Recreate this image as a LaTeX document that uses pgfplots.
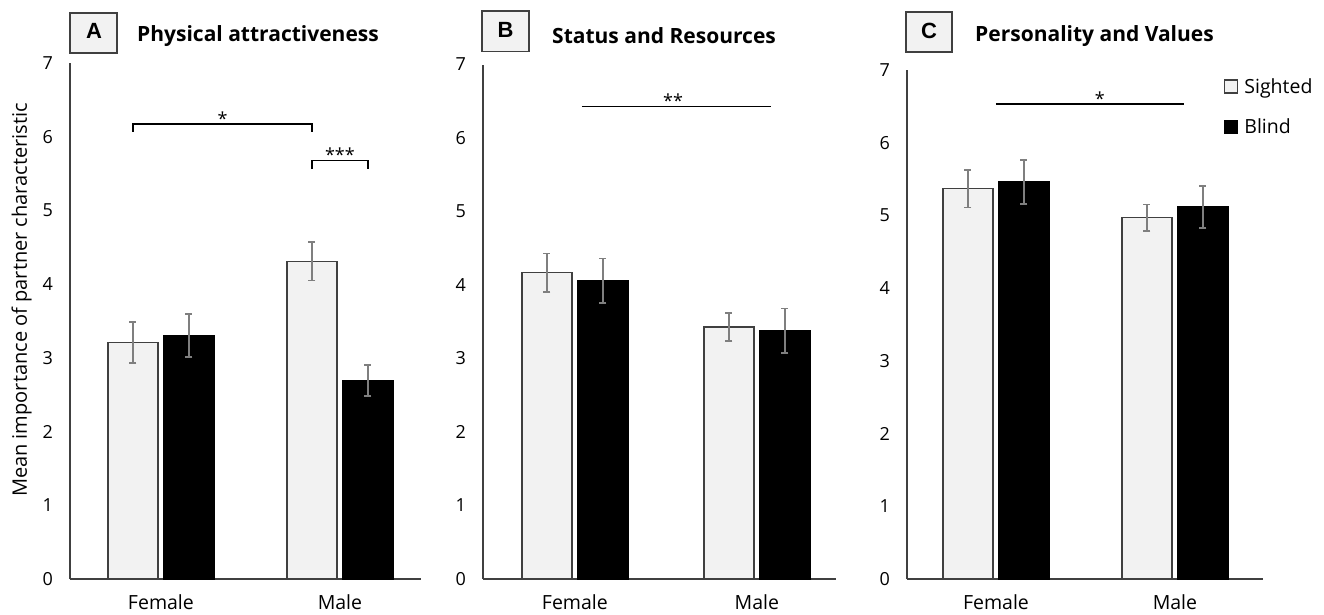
\documentclass[border=0pt]{standalone}
\usepackage{fontspec}
\setmainfont{Open Sans}
\newfontfamily\boxfont{Liberation Sans}
\usepackage{pgfplots}
\pgfplotsset{compat=1.18}
\definecolor{sightfill}{HTML}{F2F2F2}
\definecolor{barline}{HTML}{404040}
\definecolor{errc}{HTML}{7F7F7F}
\definecolor{axc}{HTML}{404040}
\pgfplotsset{
 panel/.style={
   scale only axis,
   ybar,
   ymin=0, ymax=7,
   ytick={0,1,2,3,4,5,6,7},
   xtick={0,1},
   xticklabels={Female,Male},
   axis x line*=bottom, axis y line*=left,
   axis line style={axc, line width=1.5pt},
   major tick length=0pt,
   /pgf/number format/assume math mode=true,
   yticklabel style={anchor=east, inner sep=0pt, xshift=-17pt, font=\fontsize{18}{20}\selectfont},
   xticklabel style={anchor=base, inner sep=0pt, yshift=-30pt, font=\fontsize{19.5}{22}\selectfont},
   bar width=50pt,
   clip=false,
 },
 sighted/.style={fill=sightfill, draw=barline, line width=1.4pt, bar shift=-28pt,
   error bars/.cd, y dir=both, y explicit,
   error bar style={errc, line width=1.8pt},
   error mark options={rotate=90, errc, mark size=3.5pt, line width=1.8pt}, /pgfplots/.cd},
 blind/.style={fill=black, draw=black, line width=1.4pt, bar shift=28pt,
   error bars/.cd, y dir=both, y explicit,
   error bar style={errc, line width=1.8pt},
   error mark options={rotate=90, errc, mark size=3.5pt, line width=1.8pt}, /pgfplots/.cd},
}
\begin{document}
\begin{tikzpicture}
\path[use as bounding box] (0pt,0pt) rectangle (1324pt,614pt);

% Panel A
\begin{axis}[panel, at={(70pt,35pt)}, anchor=south west, width=351pt, height=516pt,
  xmin=-0.508, xmax=1.453]
\addplot+[sighted] coordinates {(0,3.21) +- (0,0.28) (1,4.31) +- (0,0.26)};
\addplot+[blind] coordinates {(0,3.30) +- (0,0.29) (1,2.69) +- (0,0.21)};
\draw[black, line width=1.4pt] (axis cs:-0.156,6.07) -- (axis cs:-0.156,6.17) -- (axis cs:0.844,6.17) -- (axis cs:0.844,6.07);
\node[anchor=base, font=\fontsize{18}{20}\selectfont, yshift=-1pt] at (axis cs:0.344,6.17) {*};
\draw[black, line width=1.4pt] (axis cs:0.844,5.56) -- (axis cs:0.844,5.68) -- (axis cs:1.156,5.68) -- (axis cs:1.156,5.56);
\node[anchor=base, font=\fontsize{18}{20}\selectfont, yshift=-1pt] at (axis cs:1.0,5.68) {***};
\end{axis}

% Panel B
\begin{axis}[panel, at={(483pt,35pt)}, anchor=south west, width=353pt, height=514.5pt,
  xmin=-0.505, xmax=1.435]
\addplot+[sighted] coordinates {(0,4.17) +- (0,0.26) (1,3.43) +- (0,0.19)};
\addplot+[blind] coordinates {(0,4.06) +- (0,0.30) (1,3.38) +- (0,0.30)};
\draw[black, line width=1.4pt] (axis cs:0.039,6.43) -- (axis cs:1.077,6.43);
\node[anchor=base, font=\fontsize{18}{20}\selectfont, yshift=-1pt] at (axis cs:0.54,6.43) {**};
\end{axis}

% Panel C
\begin{axis}[panel, at={(907pt,35pt)}, anchor=south west, width=356pt, height=509pt,
  xmin=-0.497, xmax=1.492,
  legend style={draw=none, fill=none, at={(axis description cs:0.8904,0.988)}, anchor=north west,
    inner sep=0pt, row sep=20pt, font=\fontsize{19.5}{22}\selectfont, cells={anchor=west},
    /tikz/every odd column/.append style={column sep=4pt}},
  legend cell align=left]
\addplot+[legend image code/.code={\draw[fill=sightfill, draw=barline, line width=1.2pt] (0pt,-6.5pt) rectangle (13pt,6.5pt);}, sighted] coordinates {(0,5.37) +- (0,0.26) (1,4.97) +- (0,0.18)};
\addlegendentry{Sighted}
\addplot+[legend image code/.code={\draw[fill=black, draw=black, line width=1.2pt] (0pt,-6.5pt) rectangle (13pt,6.5pt);}, blind] coordinates {(0,5.46) +- (0,0.30) (1,5.12) +- (0,0.29)};
\addlegendentry{Blind}
\draw[black, line width=1.4pt] (axis cs:0,6.53) -- (axis cs:1.05,6.53);
\node[anchor=base, font=\fontsize{18}{20}\selectfont, yshift=-1pt] at (axis cs:0.58,6.53) {*};
\end{axis}

% y label
\node[rotate=90, anchor=base, font=\fontsize{20}{22}\selectfont] at (27pt,314pt) {Mean importance of partner characteristic};

% Panel boxes and titles
\draw[fill=sightfill, draw=barline, line width=1.4pt] (70pt,561pt) rectangle (117pt,601pt);
\node[anchor=base, font=\fontsize{22}{24}\selectfont\boxfont\bfseries] at (94pt,575pt) {A};
\node[anchor=base west, inner sep=0pt, font=\fontsize{21}{24}\selectfont\bfseries] at (137pt,572pt) {Physical attractiveness};

\draw[fill=sightfill, draw=barline, line width=1.4pt] (482pt,562.5pt) rectangle (529pt,603pt);
\node[anchor=base, font=\fontsize{22}{24}\selectfont\boxfont\bfseries] at (505.5pt,576.5pt) {B};
\node[anchor=base west, inner sep=0pt, font=\fontsize{21}{24}\selectfont\bfseries] at (552pt,570pt) {Status and Resources};

\draw[fill=sightfill, draw=barline, line width=1.4pt] (906pt,562pt) rectangle (952pt,602pt);
\node[anchor=base, font=\fontsize{22}{24}\selectfont\boxfont\bfseries] at (929pt,575.5pt) {C};
\node[anchor=base west, inner sep=0pt, font=\fontsize{21}{24}\selectfont\bfseries] at (975pt,572pt) {Personality and Values};
\end{tikzpicture}
\end{document}
